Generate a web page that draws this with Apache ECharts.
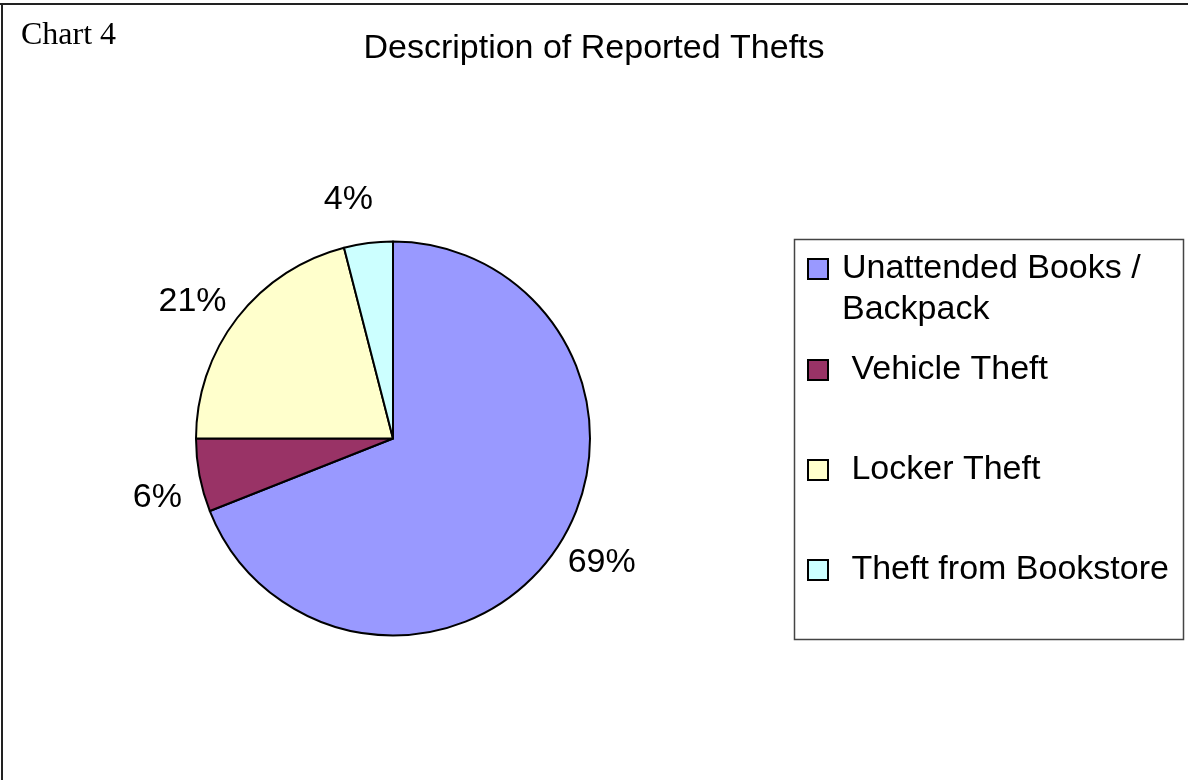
<!DOCTYPE html>
<html>
<head>
<meta charset="utf-8">
<title>Description of Reported Thefts</title>
<script src="https://cdn.jsdelivr.net/npm/echarts@6/dist/echarts.min.js"></script>
<style>
  html, body { margin: 0; padding: 0; background: #fff; }
  #chart { width: 1188px; height: 780px; }
</style>
</head>
<body>
<div id="chart"></div>
<script>
// Theft categories and their shares of reported cases (percent)
const categories = [
  'Unattended Books / Backpack',
  'Vehicle Theft',
  'Locker Theft',
  'Theft from Bookstore'
];
const legendLabels = [
  'Unattended Books /\nBackpack',
  ' Vehicle Theft',
  ' Locker Theft',
  ' Theft from Bookstore'
];
const shares = [69, 6, 21, 4];
const sliceColors = ['#9999FF', '#993366', '#FFFFCC', '#CCFFFF'];

const SANS = "'Liberation Sans', Arial, Helvetica, sans-serif";
const SERIF = "'Liberation Serif', 'Times New Roman', serif";

// pie geometry
const CX = 393, CY = 438.5, R = 197;
// percentage labels sit on a ring outside the pie, turned slightly counter-clockwise
const LABEL_R = 243;
const LABEL_TURN = 3.4;
const total = shares.reduce((a, b) => a + b, 0);

const chart = echarts.init(document.getElementById('chart'), null, { renderer: 'canvas' });

// Legend panel: framed box with one swatch + label per category
const legendBox = { x: 794, y: 239, w: 389, h: 400 };
const legendRowY = [269, 370, 470, 570];
const legendGraphics = [
  {
    type: 'rect',
    shape: { x: legendBox.x + 0.5, y: legendBox.y + 0.5, width: legendBox.w, height: legendBox.h },
    style: { fill: '#fff', stroke: '#444', lineWidth: 1.5 },
    silent: true
  }
];
categories.forEach((name, i) => {
  const yc = legendRowY[i];
  legendGraphics.push({
    type: 'rect',
    shape: { x: 808, y: yc - 10, width: 20, height: 20 },
    style: { fill: sliceColors[i], stroke: '#000', lineWidth: 2 },
    silent: true
  });
  legendGraphics.push({
    type: 'text',
    x: 842,
    y: yc - 20.5,
    style: {
      text: legendLabels[i],
      font: '34px ' + SANS,
      fill: '#000',
      lineHeight: 41,
      verticalAlign: 'top',
      align: 'left'
    },
    silent: true
  });
});

const option = {
  backgroundColor: '#fff',
  animation: false,
  title: [
    {
      text: 'Description of Reported Thefts',
      left: 'center',
      top: 32,
      padding: 0,
      textStyle: { fontFamily: SANS, fontSize: 34, fontWeight: 'normal', color: '#000', lineHeight: 34 }
    },
    {
      text: 'Chart 4',
      left: 21,
      top: 20,
      padding: 0,
      textStyle: { fontFamily: SERIF, fontSize: 32, fontWeight: 'normal', color: '#000', lineHeight: 32 }
    }
  ],
  graphic: [
    // page frame (top and left rules)
    { type: 'line', shape: { x1: 0, y1: 4, x2: 1188, y2: 4 }, style: { stroke: '#222', lineWidth: 2 }, silent: true },
    { type: 'line', shape: { x1: 2, y1: 3, x2: 2, y2: 780 }, style: { stroke: '#222', lineWidth: 2 }, silent: true },
    ...legendGraphics
  ],
  series: [
    {
      type: 'pie',
      center: [CX, CY],
      radius: R,
      startAngle: 90,
      clockwise: true,
      avoidLabelOverlap: false,
      emphasis: { disabled: true },
      itemStyle: { borderColor: '#000', borderWidth: 2 },
      label: {
        show: true,
        position: 'outside',
        fontFamily: SANS,
        fontSize: 34,
        color: '#000',
        formatter: p => Math.round(p.percent) + '%'
      },
      labelLine: { show: false },
      // place each label on the outer ring at its slice's mid-angle
      labelLayout: params => {
        const i = params.dataIndex;
        const before = shares.slice(0, i).reduce((a, b) => a + b, 0);
        const midFrac = (before + shares[i] / 2) / total;
        const ang = (90 - midFrac * 360 + LABEL_TURN) * Math.PI / 180;
        return {
          x: CX + LABEL_R * Math.cos(ang),
          y: CY - LABEL_R * Math.sin(ang),
          align: 'center',
          verticalAlign: 'middle'
        };
      },
      data: categories.map((name, i) => ({
        name,
        value: shares[i],
        itemStyle: { color: sliceColors[i] }
      }))
    }
  ]
};

chart.setOption(option);
</script>
</body>
</html>
